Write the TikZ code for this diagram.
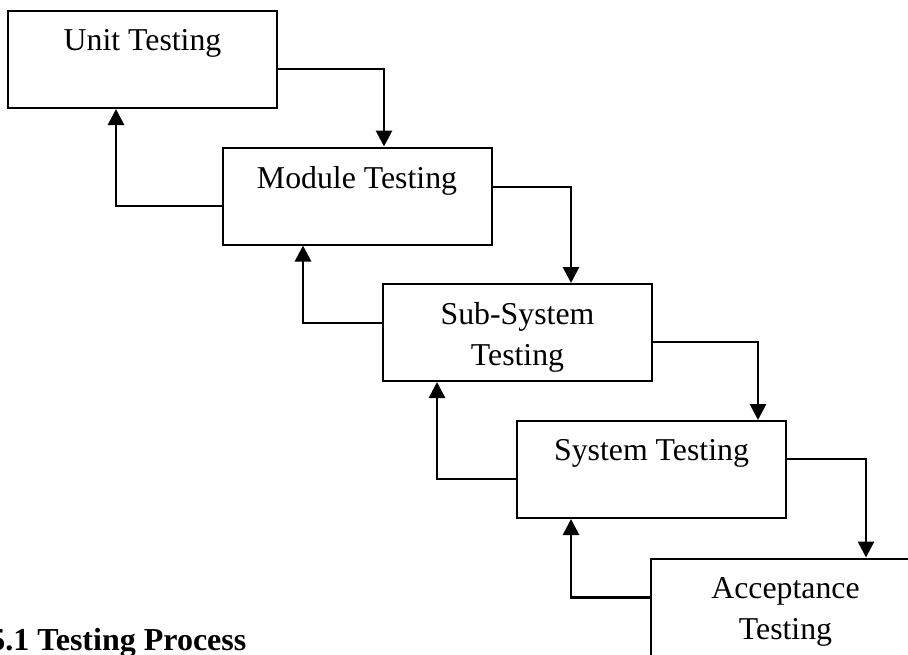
\documentclass[tikz,border=0pt]{standalone}
\usepackage{fontspec}
\setmainfont{Liberation Serif}
\usetikzlibrary{arrows.meta,calc,positioning}

\begin{document}
\begin{tikzpicture}[line cap=butt,line join=miter,>={Triangle[width=8pt,length=8pt]}
  ,x=0.5pt,y=-0.5pt
  ,box/.style={draw,line width=1pt,minimum width=134.5pt,minimum height=48.5pt,inner sep=0pt}
  ,boxtext/.style={inner sep=0pt,align=center,font=\fontsize{15.9}{20.5}\selectfont}
  ,flow/.style={->,line width=1.4pt}]
  \useasboundingbox (0,0) rectangle (908,654);
  \clip (0,0) rectangle (908,654);
  % the five stages
  \node[box] (unit) at (142.5,59.5) {};
  \node[box] (module) at (357,196) {};
  \node[box] (subsys) at (517.5,332.5) {};
  \node[box] (system) at (651.5,469.5) {};
  \node[box] (accept) at (785.5,607) {};
  \node[boxtext,below=9.7pt of unit.north] (unittext) {Unit Testing};
  \node[boxtext,below=9.7pt of module.north] (moduletext) {Module Testing};
  \node[boxtext,below=9.7pt of subsys.north] (subsystext) {Sub-System\\Testing};
  \node[boxtext,below=9.7pt of system.north] (systemtext) {System Testing};
  \node[boxtext,below=9.7pt of accept.north] (accepttext) {Acceptance\\Testing};
  % forward
  \draw[flow] ($(unit.east)+(0,9.5)$) -| ($(module.north)+(27,0)$);
  \draw[flow] ($(module.east)+(0,-9)$) -| ($(subsys.north)+(53.5,0)$);
  \draw[flow] ($(subsys.east)+(0,9.5)$) -| ($(system.north)+(106.5,0)$);
  \draw[flow] ($(system.east)+(0,-10.5)$) -| ($(accept.north)+(80.5,0)$);
  % back
  \draw[flow] ($(module.west)+(0,10)$) -| ($(unit.south)+(-26.5,0)$);
  \draw[flow] ($(subsys.west)+(0,-9.5)$) -| ($(module.south)+(-54,0)$);
  \draw[flow] ($(system.west)+(0,9.5)$) -| ($(subsys.south)+(-80.5,0)$);
  \draw[flow] ($(accept.west)+(0,-9.5)$) -| ($(system.south)+(-80.5,0)$);
  \node[anchor=base west,inner sep=0pt,font=\fontsize{16}{18}\selectfont\bfseries]
    (caption) at (-11,650) {5.1 Testing Process};
\end{tikzpicture}
\end{document}
